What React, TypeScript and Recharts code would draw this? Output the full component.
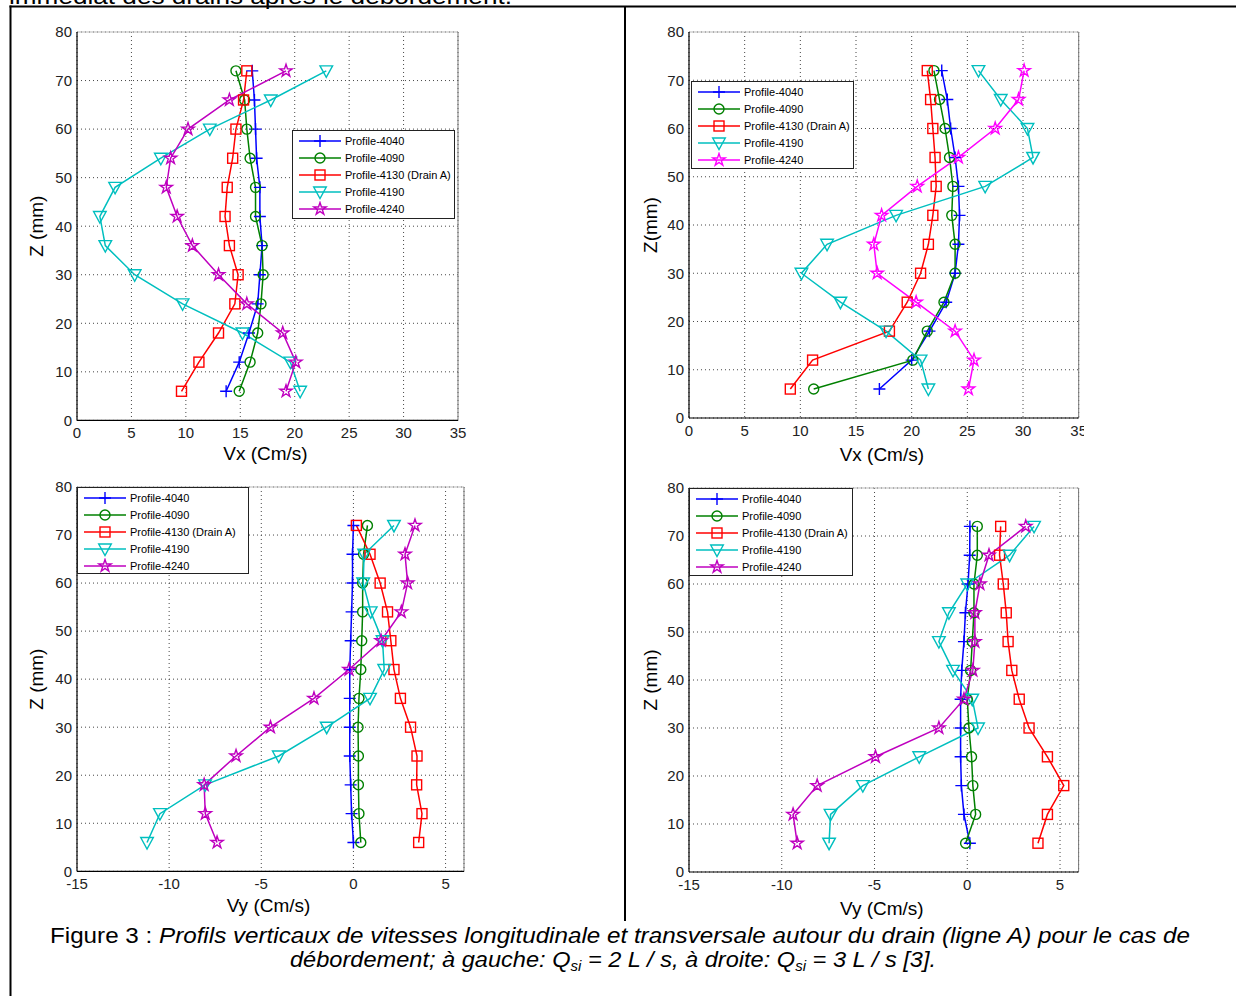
import React from 'react';
import { LineChart, Line, XAxis, YAxis, CartesianGrid, Legend, ReferenceLine } from 'recharts';

// depth of each measurement point (mm), bottom to top
const zLevels = [6, 12, 18, 24, 30, 36, 42, 48, 54, 60, 66, 72];
const zTicks = [0, 10, 20, 30, 40, 50, 60, 70, 80];
const vxTicks = [0, 5, 10, 15, 20, 25, 30, 35];
const vyTicks = [-15, -10, -5, 0, 5];

const profileNames = ['Profile-4040', 'Profile-4090', 'Profile-4130 (Drain A)', 'Profile-4190', 'Profile-4240'];

// Vx, Qsi = 2 L/s
const vx2_4040 = [13.7, 14.9, 15.8, 16.6, 16.8, 17.0, 16.8, 16.8, 16.5, 16.4, 16.3, 16.1];
const vx2_4090 = [14.9, 15.9, 16.6, 16.9, 17.1, 17.0, 16.4, 16.4, 15.9, 15.6, 15.4, 14.6];
const vx2_4130 = [9.6, 11.2, 13.0, 14.5, 14.8, 14.0, 13.6, 13.8, 14.3, 14.6, 15.3, 15.6];
const vx2_4190 = [20.5, 19.6, 15.2, 9.7, 5.3, 2.6, 2.1, 3.5, 7.7, 12.2, 17.8, 22.9];
const vx2_4240 = [19.2, 20.1, 18.9, 15.6, 13.0, 10.6, 9.2, 8.2, 8.6, 10.2, 14.0, 19.2];

// Vx, Qsi = 3 L/s
const vx3_4040 = [17.1, 20.0, 21.6, 23.1, 23.9, 24.2, 24.3, 24.2, 23.9, 23.5, 23.2, 22.7];
const vx3_4090 = [11.2, 20.1, 21.4, 22.9, 23.9, 23.9, 23.6, 23.7, 23.4, 23.0, 22.5, 22.0];
const vx3_4130 = [9.1, 11.1, 18.0, 19.6, 20.8, 21.5, 21.9, 22.2, 22.1, 21.9, 21.7, 21.4];
const vx3_4190 = [21.5, 20.8, 17.7, 13.6, 10.1, 12.4, 18.6, 26.6, 30.9, 30.4, 28.0, 26.0];
const vx3_4240 = [25.1, 25.6, 23.9, 20.4, 16.9, 16.6, 17.3, 20.5, 24.2, 27.5, 29.6, 30.1];

// Vy, Qsi = 2 L/s
const vy2_4040 = [0.0, -0.1, -0.15, -0.2, -0.2, -0.2, -0.2, -0.15, -0.1, -0.05, -0.05, 0.0];
const vy2_4090 = [0.4, 0.3, 0.27, 0.27, 0.25, 0.3, 0.4, 0.45, 0.5, 0.5, 0.55, 0.76];
const vy2_4130 = [3.54, 3.72, 3.43, 3.45, 3.1, 2.55, 2.2, 2.03, 1.85, 1.45, 0.9, 0.16];
const vy2_4190 = [-11.2, -10.5, -8.05, -4.05, -1.45, 0.9, 1.67, 1.58, 0.94, 0.53, 0.58, 2.2];
const vy2_4240 = [-7.4, -8.04, -8.1, -6.37, -4.5, -2.14, -0.24, 1.5, 2.6, 2.94, 2.8, 3.34];

// Vy, Qsi = 3 L/s
const vy3_4040 = [0.14, -0.18, -0.32, -0.36, -0.36, -0.36, -0.3, -0.18, -0.1, 0.04, 0.13, 0.14];
const vy3_4090 = [-0.09, 0.45, 0.3, 0.23, 0.09, 0.0, 0.18, 0.27, 0.36, 0.36, 0.54, 0.54];
const vy3_4130 = [3.81, 4.32, 5.2, 4.32, 3.33, 2.8, 2.4, 2.2, 2.1, 1.94, 1.74, 1.8];
const vy3_4190 = [-7.45, -7.37, -5.63, -2.59, 0.58, 0.27, -0.77, -1.53, -0.99, 0.0, 2.28, 3.6];
const vy3_4240 = [-9.17, -9.39, -8.09, -4.95, -1.53, -0.18, 0.3, 0.41, 0.41, 0.68, 1.17, 3.15];

const FONT = '"Liberation Sans", Arial, sans-serif';
const markerKinds = ['plus', 'circle', 'square', 'triangle', 'star'];
const baseColors = ['#0000FF', '#008000', '#FF0000', '#00BFBF', '#BF00BF'];
const brightColors = ['#0000FF', '#008000', '#FF0000', '#00BFBF', '#FF00FF'];

function starPath(cx: number, cy: number, r: number) {
  const inner = r * 0.382;
  let d = '';
  for (let i = 0; i < 10; i++) {
    const rad = i % 2 === 0 ? r : inner;
    const a = -Math.PI / 2 + (i * Math.PI) / 5;
    d += `${i === 0 ? 'M' : 'L'}${cx + rad * Math.cos(a)},${cy + rad * Math.sin(a)}`;
  }
  return d + 'Z';
}

function Marker({ kind, cx, cy, color }: { kind: string; cx: number; cy: number; color: string }) {
  const st = { fill: 'none', stroke: color, strokeWidth: 1.4 };
  switch (kind) {
    case 'plus':
      return <path d={`M${cx - 6},${cy}H${cx + 6}M${cx},${cy - 6}V${cy + 6}`} {...st} />;
    case 'circle':
      return <circle cx={cx} cy={cy} r={5} {...st} />;
    case 'square':
      return <rect x={cx - 5} y={cy - 5} width={10} height={10} {...st} />;
    case 'triangle':
      return <path d={`M${cx - 6.3},${cy - 5}L${cx + 6.3},${cy - 5}L${cx},${cy + 6.5}Z`} {...st} />;
    default:
      return <path d={starPath(cx, cy, 6.5)} {...st} />;
  }
}

function LegendBox({ colors }: { colors: string[] }) {
  return (
    <div
      style={{
        width: '100%',
        height: '100%',
        boxSizing: 'border-box',
        border: '1px solid #222',
        background: '#fff',
        paddingTop: 2,
        fontFamily: FONT,
        fontSize: 11,
        color: '#000',
      }}
    >
      {profileNames.map((name, i) => (
        <div key={name} style={{ display: 'flex', alignItems: 'center', height: 16.8 }}>
          <svg width={50} height={16} style={{ flex: 'none', marginLeft: 2 }}>
            <line x1={4} x2={46} y1={8} y2={8} stroke={colors[i]} strokeWidth={1.5} />
            <Marker kind={markerKinds[i]} cx={25} cy={8} color={colors[i]} />
          </svg>
          <span style={{ whiteSpace: 'nowrap' }}>{name}</span>
        </div>
      ))}
    </div>
  );
}

type Rect = { x: number; y: number; w: number; h: number };
type PanelProps = {
  plot: Rect;
  series: number[][];
  colors: string[];
  xDomain: [number, number];
  xTicks: number[];
  xLabel: string;
  yLabel: string;
  legend: Rect;
  xLabelGap: number;
  yLabelGap: number;
  clipRight?: number;
};

const YW = 60;
const MT = 20;
const MR = 20;
const XH = 60;

function Panel(p: PanelProps) {
  const left = p.plot.x - YW;
  const top = p.plot.y - MT;
  const width = YW + p.plot.w + MR;
  const height = MT + p.plot.h + XH;
  const tick = { fontSize: 15, fill: '#222', fontFamily: FONT };

  return (
    <div
      style={{
        position: 'absolute',
        left,
        top,
        width: p.clipRight ? p.clipRight - left : width,
        height,
        overflow: 'hidden',
      }}
    >
      <LineChart width={width} height={height} margin={{ top: MT, right: MR, bottom: 0, left: 0 }}>
        <CartesianGrid stroke="#444" strokeDasharray="1 3" />
        <XAxis
          type="number"
          dataKey="v"
          domain={p.xDomain}
          ticks={p.xTicks}
          allowDataOverflow
          height={XH}
          tickLine={false}
          tickSize={0}
          tickMargin={7}
          axisLine={{ stroke: '#000', strokeWidth: 1.2 }}
          tick={tick}
          label={(lp: any) => {
            const vb = lp.viewBox || {};
            return (
              <text
                x={vb.x + vb.width / 2 - 2}
                y={vb.y + p.xLabelGap}
                textAnchor="middle"
                dominantBaseline="central"
                fontSize={19}
                fontFamily={FONT}
                fill="#000"
              >
                {p.xLabel}
              </text>
            );
          }}
        />
        <YAxis
          type="number"
          domain={[0, 80]}
          ticks={zTicks}
          allowDataOverflow
          width={YW}
          tickLine={false}
          tickSize={0}
          tickMargin={5}
          axisLine={{ stroke: '#000', strokeWidth: 1.2 }}
          tick={tick}
          label={(lp: any) => {
            const vb = lp.viewBox || {};
            const cx = vb.x + vb.width - p.yLabelGap;
            const cy = vb.y + vb.height / 2;
            return (
              <text
                x={cx}
                y={cy}
                transform={`rotate(-90 ${cx} ${cy})`}
                textAnchor="middle"
                dominantBaseline="central"
                fontSize={19}
                fontFamily={FONT}
                fill="#000"
              >
                {p.yLabel}
              </text>
            );
          }}
        />
        <ReferenceLine x={p.xDomain[1]} stroke="#777" strokeWidth={1} />
        <ReferenceLine y={80} stroke="#bbb" strokeWidth={1} />
        {p.series.map((vals, i) => (
          <Line
            key={profileNames[i]}
            name={profileNames[i]}
            data={zLevels.map((z, k) => ({ z, v: vals[k] }))}
            dataKey="z"
            type="linear"
            stroke={p.colors[i]}
            strokeWidth={1.5}
            isAnimationActive={false}
            activeDot={false}
            dot={(dp: any) => (
              <Marker key={`${i}-${dp.index}`} kind={markerKinds[i]} cx={dp.cx} cy={dp.cy} color={p.colors[i]} />
            )}
          />
        ))}
        <Legend
          layout="vertical"
          align="center"
          verticalAlign="middle"
          content={() => <LegendBox colors={p.colors} />}
          wrapperStyle={{
            left: p.legend.x - left,
            top: p.legend.y - top,
            width: p.legend.w,
            height: p.legend.h,
          }}
        />
      </LineChart>
    </div>
  );
}

export default function App() {
  return (
    <div
      style={{
        position: 'absolute',
        left: 0,
        top: 0,
        width: 1236,
        height: 996,
        background: '#fff',
        overflow: 'hidden',
        fontFamily: FONT,
      }}
    >
      <svg width={1236} height={996} style={{ position: 'absolute', left: 0, top: 0 }}>
        <text x={9} y={4} fontSize={22} fontFamily={FONT} textLength={503} lengthAdjust="spacingAndGlyphs">
          immédiat des drains après le débordement.
        </text>
        <line x1={9.5} x2={1236} y1={6.5} y2={6.5} stroke="#000" strokeWidth={2} />
        <line x1={10.5} x2={10.5} y1={5.5} y2={996} stroke="#000" strokeWidth={2} />
        <line x1={625} x2={625} y1={6} y2={921} stroke="#000" strokeWidth={2} />
        <text x={50} y={943} fontSize={22} fontFamily={FONT} textLength={1140} lengthAdjust="spacingAndGlyphs">
          Figure 3 :{' '}
          <tspan fontStyle="italic">
            Profils verticaux de vitesses longitudinale et transversale autour du drain (ligne A) pour le cas de
          </tspan>
        </text>
        <text
          x={290}
          y={967}
          fontSize={22}
          fontFamily={FONT}
          fontStyle="italic"
          textLength={646}
          lengthAdjust="spacingAndGlyphs"
        >
          débordement; à gauche: Q
          <tspan fontSize={14} dy={4}>
            si
          </tspan>
          <tspan dy={-4}> = 2 L / s, à droite: Q</tspan>
          <tspan fontSize={14} dy={4}>
            si
          </tspan>
          <tspan dy={-4}> = 3 L / s [3].</tspan>
        </text>
      </svg>

      <Panel
        plot={{ x: 77, y: 32.3, w: 381, h: 388.4 }}
        series={[vx2_4040, vx2_4090, vx2_4130, vx2_4190, vx2_4240]}
        colors={baseColors}
        xDomain={[0, 35]}
        xTicks={vxTicks}
        xLabel="Vx (Cm/s)"
        yLabel="Z (mm)"
        legend={{ x: 292, y: 130, w: 163, h: 89 }}
        xLabelGap={33}
        yLabelGap={40}
      />
      <Panel
        plot={{ x: 689.3, y: 32.3, w: 389.7, h: 386 }}
        series={[vx3_4040, vx3_4090, vx3_4130, vx3_4190, vx3_4240]}
        colors={brightColors}
        xDomain={[0, 35]}
        xTicks={vxTicks}
        xLabel="Vx (Cm/s)"
        yLabel="Z(mm)"
        legend={{ x: 691, y: 81, w: 163, h: 88 }}
        xLabelGap={36.5}
        yLabelGap={38.6}
        clipRight={1084}
      />
      <Panel
        plot={{ x: 77.3, y: 486.7, w: 387, h: 384.3 }}
        series={[vy2_4040, vy2_4090, vy2_4130, vy2_4190, vy2_4240]}
        colors={baseColors}
        xDomain={[-15, 6]}
        xTicks={vyTicks}
        xLabel="Vy (Cm/s)"
        yLabel="Z (mm)"
        legend={{ x: 77, y: 487, w: 172, h: 87 }}
        xLabelGap={34.7}
        yLabelGap={40.3}
      />
      <Panel
        plot={{ x: 688.7, y: 488.3, w: 389.6, h: 384 }}
        series={[vy3_4040, vy3_4090, vy3_4130, vy3_4190, vy3_4240]}
        colors={baseColors}
        xDomain={[-15, 6]}
        xTicks={vyTicks}
        xLabel="Vy (Cm/s)"
        yLabel="Z (mm)"
        legend={{ x: 689, y: 488, w: 164, h: 88 }}
        xLabelGap={36.7}
        yLabelGap={38}
      />
    </div>
  );
}
